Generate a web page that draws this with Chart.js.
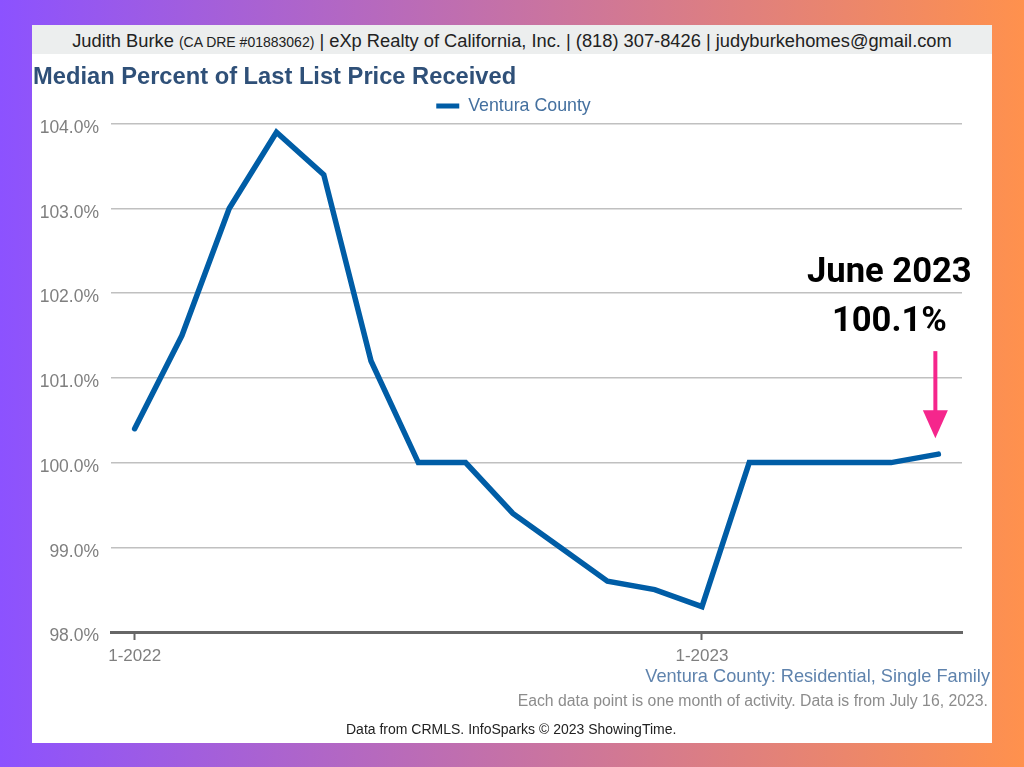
<!DOCTYPE html>
<html>
<head>
<meta charset="utf-8">
<title>Median Percent of Last List Price Received</title>
<script src="https://cdn.jsdelivr.net/npm/chart.js@4"></script>
<style>
  html, body { margin: 0; padding: 0; width: 1024px; height: 767px; overflow: hidden; }
  body { background: linear-gradient(90deg, #8c52ff, #ff914d); position: relative; font-family: "Liberation Sans", Arial, sans-serif; }
  #card { position: absolute; left: 32px; top: 25px; width: 960px; height: 718px; background: #fff; }
  #card canvas { position: absolute; left: 0; top: 0; }
  .line { position: absolute; white-space: nowrap; }
  #contact { left: 0; top: 0; width: 960px; height: 29px; line-height: 31px; background: #eceeee; color: #222; font-size: 18.3px; text-align: center; }
  #contact small { font-size: 14px; }
  #scope { right: 2px; top: 641px; color: #5f83ad; font-size: 18.2px; }
  #note { right: 4px; top: 667px; color: #8c8c8c; font-size: 15.8px; }
  #credit { left: 314px; top: 696px; color: #222; font-size: 14px; }
</style>
</head>
<body>
<div id="card">
  <canvas id="chartPrice" width="960" height="718"></canvas>
  <div class="line" id="contact">Judith Burke <small>(CA DRE #01883062)</small> | eXp Realty of California, Inc. | (818) 307-8426 | judyburkehomes@gmail.com</div>
  <div class="line" id="scope">Ventura County: Residential, Single Family</div>
  <div class="line" id="note">Each data point is one month of activity. Data is from July 16, 2023.</div>
  <div class="line" id="credit">Data from CRMLS. InfoSparks © 2023 ShowingTime.</div>
</div>
<script>
/* --- Data -------------------------------------------------- */
const MONTHS = [
  '1-2022', '2-2022', '3-2022', '4-2022', '5-2022', '6-2022',
  '7-2022', '8-2022', '9-2022', '10-2022', '11-2022', '12-2022',
  '1-2023', '2-2023', '3-2023', '4-2023', '5-2023', '6-2023',
];
const VENTURA = [
  100.4, 101.5, 103.0, 103.9, 103.4, 101.2,
  100.0, 100.0, 99.4, 99.0, 98.6, 98.5,
  98.3, 100.0, 100.0, 100.0, 100.0, 100.1,
];
const SHOWN_MONTHS = ['1-2022', '1-2023'];
const CALLOUT = ['June 2023', '100.1%'];

const BLUE = '#005da6';
const GREY_TEXT = '#7f7f7f';
const PINK = '#f5268c';

/* --- Callout: text and arrow over the last point ----------- */
const calloutPlugin = {
  id: 'callout',
  // legend sits right of the plot centre in the original, title 1px in
  afterLayout(chart) {
    chart.legend.left += 16.5;
    chart.legend.right += 16.5;
    chart.legend.top += 1;
    chart.legend.bottom += 1;
    chart.titleBlock.left += 1;
    chart.titleBlock.right += 1;
  },
  afterDraw(chart) {
    const { ctx, scales } = chart;
    const last = VENTURA.length - 1;
    const x = scales.x.getPixelForValue(last) - 3;
    const tip = scales.y.getPixelForValue(VENTURA[last]) - 16;
    ctx.save();
    ctx.fillStyle = '#000';
    ctx.font = 'bold 34.6px Roboto';
    ctx.textAlign = 'center';
    ctx.textBaseline = 'middle';
    ctx.fillText(CALLOUT[0], x - 46, tip - 165);
    ctx.fillText(CALLOUT[1], x - 46, tip - 116);

    ctx.strokeStyle = PINK;
    ctx.fillStyle = PINK;
    ctx.lineWidth = 4;
    ctx.beginPath();
    ctx.moveTo(x, tip - 87);
    ctx.lineTo(x, tip - 25);
    ctx.stroke();
    ctx.beginPath();
    ctx.moveTo(x - 12.5, tip - 28);
    ctx.lineTo(x + 12.5, tip - 28);
    ctx.lineTo(x, tip);
    ctx.closePath();
    ctx.fill();
    ctx.restore();
  }
};

/* --- Chart ------------------------------------------------- */
new Chart(document.getElementById('chartPrice'), {
  type: 'line',
  plugins: [calloutPlugin],
  data: {
    labels: MONTHS,
    datasets: [{
      label: 'Ventura County',
      data: VENTURA,
      borderColor: BLUE,
      backgroundColor: BLUE,
      borderWidth: 5.5,
      borderCapStyle: 'round',
      borderJoinStyle: 'miter',
      pointRadius: 0,
      tension: 0,
    }]
  },
  options: {
    responsive: false,
    animation: false,
    layout: { padding: { right: 30 } },
    plugins: {
      tooltip: { enabled: false },
      title: {
        display: true,
        text: 'Median Percent of Last List Price Received',
        align: 'start',
        color: '#2f5078',
        font: { family: 'Liberation Sans', size: 23.7, weight: 'bold', lineHeight: 0.76 },
        padding: { top: 43, bottom: 0 },
      },
      legend: {
        position: 'top',
        labels: {
          boxWidth: 23,
          boxHeight: 5,
          color: '#44709f',
          font: { family: 'Liberation Sans', size: 17.8 },
          padding: 10,
          generateLabels: chart => Chart.defaults.plugins.legend.labels.generateLabels(chart)
            .map(item => ({ ...item, lineWidth: 0 })),
        },
      },
    },
    scales: {
      x: {
        offset: true,
        afterFit: scale => { scale.height = 111; },
        afterBuildTicks: scale => {
          scale.ticks = scale.ticks.filter(t => SHOWN_MONTHS.includes(MONTHS[t.value]));
        },
        grid: { drawOnChartArea: false, tickLength: 8, tickColor: '#666', tickWidth: 2 },
        border: { color: '#666', width: 3 },
        ticks: {
          autoSkip: false,
          maxRotation: 0,
          padding: 6,
          color: GREY_TEXT,
          font: { family: 'Liberation Sans', size: 17 },
        },
      },
      y: {
        min: 98,
        max: 104,
        afterFit: scale => { scale.width = 79; },
        grid: { color: '#c0c0c0', lineWidth: 1.5, drawTicks: false },
        border: { display: false },
        ticks: {
          stepSize: 1,
          padding: 12,
          color: GREY_TEXT,
          font: { family: 'Liberation Sans', size: 17.5, lineHeight: 0.5 },
          // blank first line pushes the label just below its gridline, as in the original
          callback: v => ['', v.toFixed(1) + '%'],
        },
      },
    },
  },
});
</script>
</body>
</html>
